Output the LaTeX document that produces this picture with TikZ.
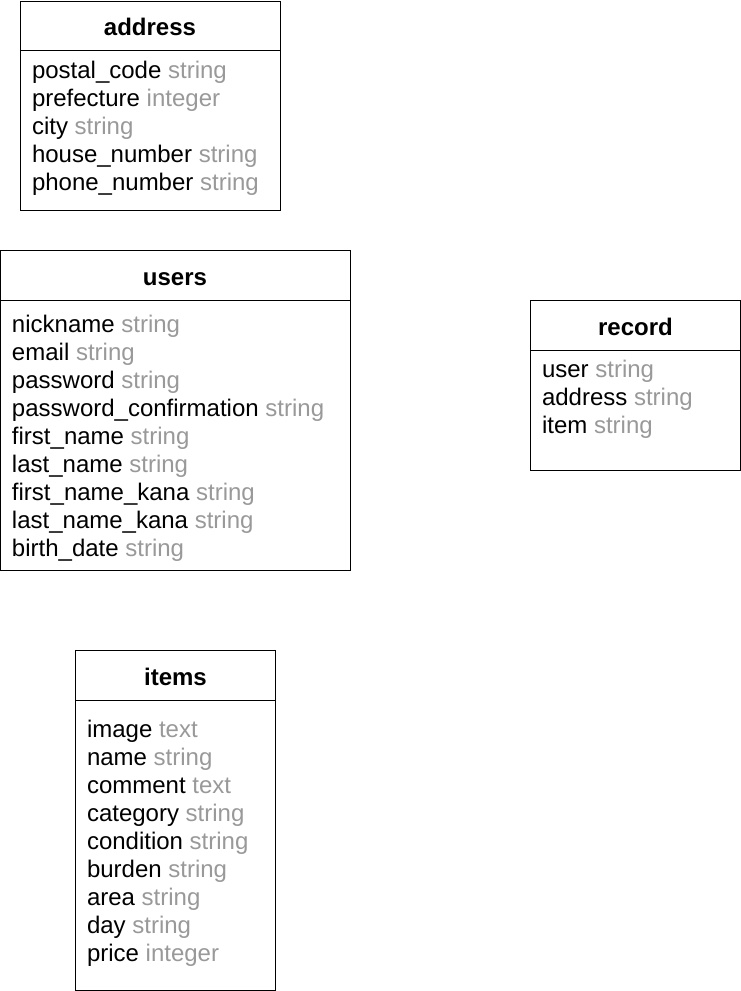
\documentclass[tikz,border=0pt]{standalone}
\usepackage{fontspec}
\setmainfont{Liberation Sans}
\definecolor{typegray}{RGB}{153,153,153}
\begin{document}
\begin{tikzpicture}[x=1pt,y=-1pt,
  every node/.style={inner sep=0pt,outer sep=0pt},
  tbl/.style={draw=black,line width=1pt,fill=white,anchor=north west,rectangle},
  ttl/.style={anchor=base,font=\fontsize{24}{28}\selectfont\bfseries},
  fld/.style={anchor=base west,font=\fontsize{24}{28}\selectfont}]
\useasboundingbox (0,0) rectangle (741,991);

% address
\node[tbl,minimum width=260pt,minimum height=209pt] (address) at (20.5,1) {};
\draw[line width=1pt] ([yshift=-49pt]address.north west) -- ([yshift=-49pt]address.north east);
\node[ttl] (addressT) at (150,35.5) {address};
\foreach \n/\t [count=\i] in {postal\_code/string,prefecture/integer,city/string,house\_number/string,phone\_number/string}
  \node[fld] (addr-\i) at (32,{78+28*(\i-1)}) {\n\ \textcolor{typegray}{\t}};

% users
\node[tbl,minimum width=350pt,minimum height=320pt] (users) at (0.5,250.5) {};
\draw[line width=1pt] ([yshift=-50pt]users.north west) -- ([yshift=-50pt]users.north east);
\node[ttl] (usersT) at (175,285.5) {users};
\foreach \n/\t [count=\i] in {nickname/string,email/string,password/string,password\_confirmation/string,first\_name/string,last\_name/string,first\_name\_kana/string,last\_name\_kana/string,birth\_date/string}
  \node[fld] (user-\i) at (12,{332+28*(\i-1)}) {\n\ \textcolor{typegray}{\t}};

% record
\node[tbl,minimum width=210pt,minimum height=170pt] (record) at (530.5,300.5) {};
\draw[line width=1pt] ([yshift=-50pt]record.north west) -- ([yshift=-50pt]record.north east);
\node[ttl] (recordT) at (635.5,335.5) {record};
\foreach \n/\t [count=\i] in {user/string,address/string,item/string}
  \node[fld] (rec-\i) at (542,{377+28*(\i-1)}) {\n\ \textcolor{typegray}{\t}};

% items
\node[tbl,minimum width=200pt,minimum height=340pt] (items) at (75.5,650.5) {};
\draw[line width=1pt] ([yshift=-50pt]items.north west) -- ([yshift=-50pt]items.north east);
\node[ttl] (itemsT) at (175.5,685.5) {items};
\foreach \n/\t [count=\i] in {image/text,name/string,comment/text,category/string,condition/string,burden/string,area/string,day/string,price/integer}
  \node[fld] (item-\i) at (87,{737+28*(\i-1)}) {\n\ \textcolor{typegray}{\t}};
\end{tikzpicture}
\end{document}
